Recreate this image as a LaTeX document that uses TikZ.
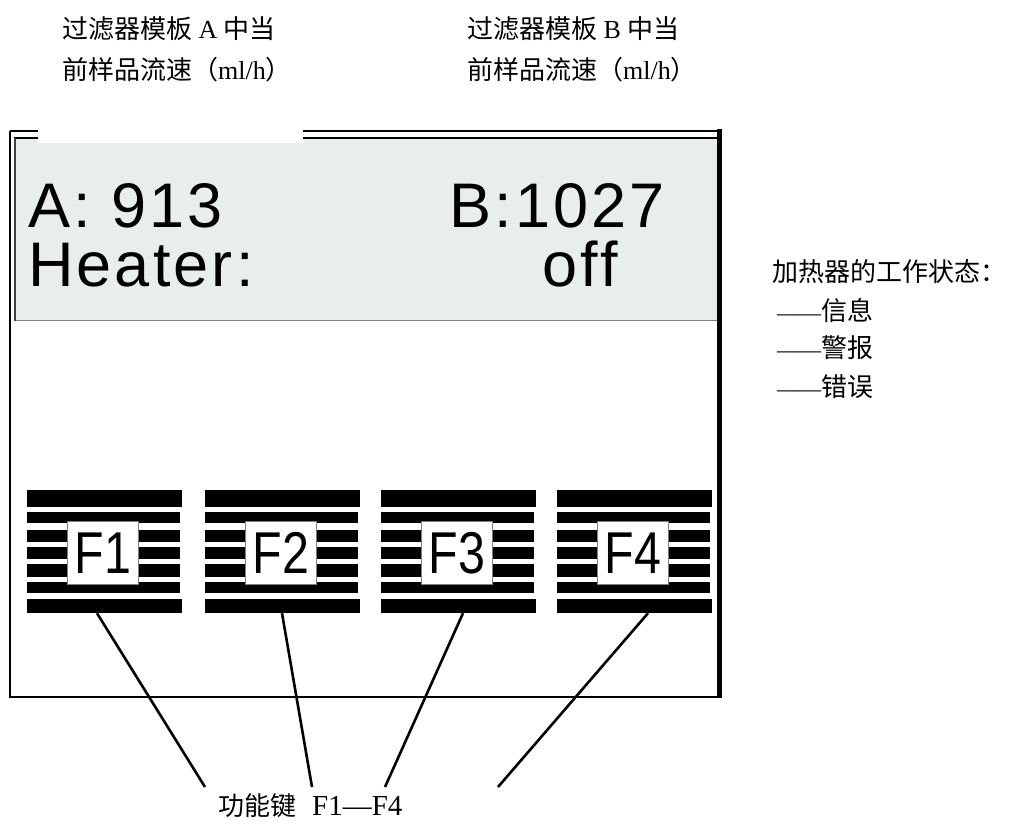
\documentclass[tikz,border=0pt]{standalone}
\usepackage{fontspec}
\setmainfont{Liberation Serif}
\newfontfamily\cjk{Noto Sans CJK SC}
\newfontfamily\lcd[LetterSpace=5]{Liberation Sans}
\newfontfamily\keyfont[FakeStretch=0.82]{Liberation Sans}
\definecolor{panelgray}{HTML}{E8EEEE}
\begin{document}
\begin{tikzpicture}[x=1pt,y=-1pt,
  lcdtext/.style={inner sep=0pt, font=\lcd\fontsize{63}{63}\selectfont},
  cnlabel/.style={inner sep=0pt, anchor=base west, font=\fontsize{26}{30}\selectfont},
  keybox/.style={draw=gray, line width=0.8pt, fill=white, minimum width=71pt, minimum height=63pt, inner sep=0pt, font=\keyfont\fontsize{59}{59}\selectfont},
  bar/.style={fill=black, inner sep=0pt, minimum width=155pt},
  connector/.style={line width=2.6pt}]
\useasboundingbox (0,0) rectangle (1013,829);

% display panel
\fill[panelgray] (14,138) rectangle (717,321);
\draw[line width=1pt, gray] (14,321) -- (717,321);

% frame
\draw[line width=2pt] (10,131) -- (10,697) -- (721,697);
\draw[line width=5pt] (719,129) -- (719,698);
\draw[line width=2pt] (10,131) -- (719,131);
\draw[line width=2pt] (14,138) -- (717,138);
\draw[line width=1.5pt, black!75] (15,138) -- (15,321);
\fill[white] (38,124) rectangle (303,143);

% display texts
\node[lcdtext, anchor=base west] (aval) at (28,228) {A: 913};
\node[lcdtext, anchor=base east] (bval) at (665,228) {B:1027};
\node[lcdtext, anchor=base west] (heater) at (28,287) {Heater:};
\node[lcdtext, anchor=base east] (off) at (618,287) {off};

% function keys
\foreach \x/\n [count=\i] in {27/F1, 205/F2, 381/F3, 557/F4} {
  \fill (\x,490) rectangle ++(155,17);
  \fill (\x,512) rectangle ++(153,11);
  \fill (\x,530) rectangle ++(153,12);
  \fill (\x,547) rectangle ++(153,12);
  \fill (\x,564) rectangle ++(153,13);
  \fill (\x,582) rectangle ++(153,11);
  \node[bar, minimum height=14pt] (bot\i) at (\x+77.5,606) {};
  \node[keybox] (key\i) at (\x+76,553) {\n};
}

% labels
\node[cnlabel] (la1) at (62,39) {{\cjk 过滤器模板} A {\cjk 中当}};
\node[cnlabel] (la2) at (62,80) {{\cjk 前样品流速（}ml/h{\cjk ）}};
\node[cnlabel] (lb1) at (467,39) {{\cjk 过滤器模板} B {\cjk 中当}};
\node[cnlabel] (lb2) at (467,80) {{\cjk 前样品流速（}ml/h{\cjk ）}};

\node[cnlabel] (st0) at (772,282) {\cjk 加热器的工作状态：};
\node[cnlabel] (st1) at (777,320) {{\fontsize{22}{26}\selectfont ——}{\cjk 信息}};
\node[cnlabel] (st2) at (777,358) {{\fontsize{22}{26}\selectfont ——}{\cjk 警报}};
\node[cnlabel] (st3) at (777,396) {{\fontsize{22}{26}\selectfont ——}{\cjk 错误}};

\node[cnlabel] (fk) at (218,815) {{\cjk 功能键}\hspace{16pt}{\fontsize{29}{32}\selectfont F1—F4}};

% connectors
\coordinate (e1) at (205,787);
\coordinate (e2) at (312,787);
\coordinate (e3) at (385,787);
\coordinate (e4) at (498,787);
\draw[connector] ([xshift=-7.5pt]bot1.south) -- (e1);
\draw[connector] ([xshift=-0.5pt]bot2.south) -- (e2);
\draw[connector] ([xshift=4.5pt]bot3.south) -- (e3);
\draw[connector] ([xshift=13.5pt]bot4.south) -- (e4);
\end{tikzpicture}
\end{document}
